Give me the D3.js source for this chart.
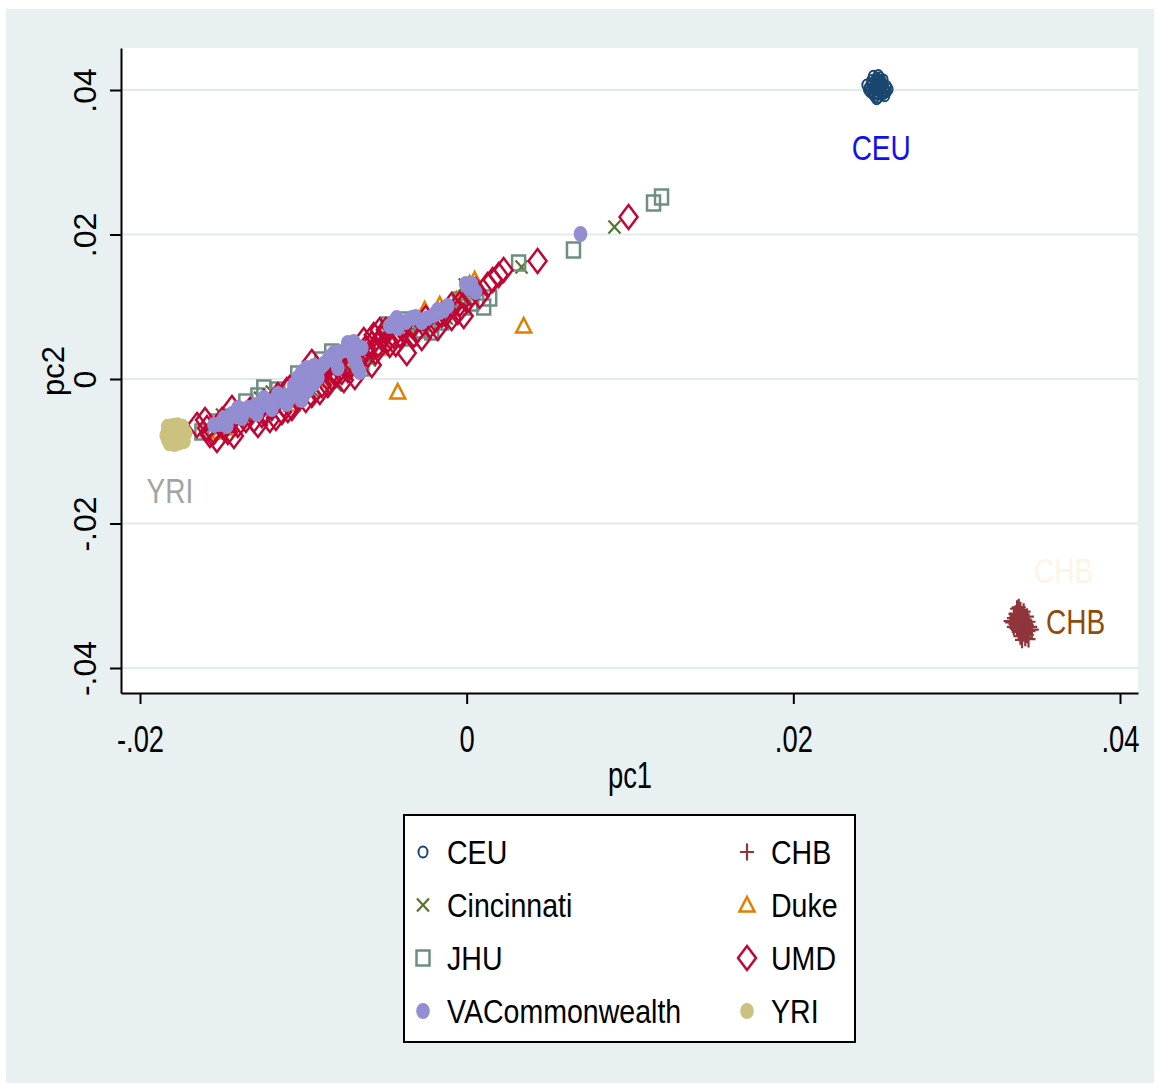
<!DOCTYPE html>
<html><head><meta charset="utf-8">
<script src="https://cdn.jsdelivr.net/npm/d3@7"></script>
<style>body{margin:0;background:#fff}svg{display:block}text{font-family:"Liberation Sans",Arial,Helvetica,sans-serif}</style>
</head><body><svg id="c" width="1158" height="1087"></svg>
<script>
// ---------- data (pc1, pc2) ----------
const ceuPts = [[0.0250,0.0412],[0.0252,0.0413],[0.0254,0.0411],[0.0248,0.0409],[0.0251,0.0408],[0.0255,0.0407],[0.0257,0.0405],[0.0247,0.0405],[0.0249,0.0403],[0.0252,0.0404],[0.0254,0.0402],[0.0256,0.0400],[0.0246,0.0401],[0.0250,0.0400],[0.0253,0.0399],[0.0248,0.0397],[0.0251,0.0396],[0.0254,0.0397],[0.0256,0.0397],[0.0249,0.0394],[0.0252,0.0394],[0.0255,0.0395],[0.0258,0.0401],[0.0245,0.0407],[0.0253,0.0410],[0.0250,0.0405],[0.0257,0.0398],[0.0247,0.0398],[0.0251,0.0402],[0.0253,0.0406],[0.0251,0.0416],[0.0253,0.0417],[0.0250,0.0391],[0.0252,0.0390],[0.0252,0.0420],[0.0249,0.0419],[0.0251,0.0388],[0.0255,0.0414],[0.0248,0.0413],[0.0256,0.0392]];
const chbPts = [[0.0337,-0.0318],[0.0339,-0.0320],[0.0341,-0.0322],[0.0336,-0.0325],[0.0338,-0.0327],[0.0340,-0.0326],[0.0343,-0.0329],[0.0335,-0.0331],[0.0337,-0.0333],[0.0339,-0.0332],[0.0342,-0.0334],[0.0344,-0.0336],[0.0334,-0.0337],[0.0336,-0.0339],[0.0338,-0.0338],[0.0341,-0.0340],[0.0343,-0.0341],[0.0345,-0.0343],[0.0335,-0.0343],[0.0337,-0.0345],[0.0340,-0.0345],[0.0342,-0.0347],[0.0344,-0.0349],[0.0338,-0.0350],[0.0341,-0.0352],[0.0343,-0.0354],[0.0339,-0.0356],[0.0342,-0.0358],[0.0344,-0.0360],[0.0340,-0.0361],[0.0346,-0.0347],[0.0333,-0.0335],[0.0340,-0.0335],[0.0338,-0.0316]];
const cincinnatiPts = [[-0.01498,-0.00498],[-0.01407,-0.00567],[-0.01266,-0.00263],[-0.01193,-0.00180],[-0.01101,-0.00291],[-0.01009,-0.00014],[-0.00936,-0.00180],[-0.00801,-0.00083],[-0.00765,0.00208],[-0.00703,0.00097],[-0.00593,0.00263],[-0.00489,0.00540],[-0.00428,0.00678],[-0.00306,0.00747],[-0.00122,0.00844],[-0.00012,0.01301],[0.00336,0.01550],[0.00905,0.02104]];
const dukePts = [[-0.01511,-0.00734],[-0.01450,-0.00678],[-0.01303,-0.00457],[-0.01070,-0.00346],[-0.00875,-0.00014],[-0.00734,0.00152],[-0.00520,0.00429],[-0.00367,0.00678],[-0.00257,0.00955],[-0.00165,0.01024],[-0.00061,0.01093],[-0.00018,0.01135],[0.00018,0.01315],[0.00049,0.01370],[0.00349,0.00734],[-0.00422,-0.00180]];
const jhuPts = [[-0.01621,-0.00734],[-0.01529,-0.00595],[-0.01352,-0.00318],[-0.01278,-0.00235],[-0.01242,-0.00125],[-0.01156,-0.00152],[-0.01034,0.00069],[-0.00979,-0.00055],[-0.00887,0.00263],[-0.00826,0.00374],[-0.00728,0.00263],[-0.00642,0.00152],[-0.00483,0.00747],[-0.00385,0.00817],[-0.00349,0.00567],[-0.00275,0.00678],[-0.00214,0.00651],[-0.00153,0.00789],[-0.00104,0.00955],[-0.00043,0.01093],[-0.00018,0.00997],[0.00104,0.00997],[0.00141,0.01121],[0.00318,0.01606],[0.00654,0.01785],[0.01144,0.02436],[0.01193,0.02519],[0.00031,0.01052]];
const umdPts = [[-0.01651,-0.00637],[-0.01602,-0.00567],[-0.01572,-0.00775],[-0.01529,-0.00844],[-0.01486,-0.00678],[-0.01437,-0.00567],[-0.01462,-0.00734],[-0.01376,-0.00498],[-0.01401,-0.00637],[-0.01327,-0.00429],[-0.01303,-0.00567],[-0.01254,-0.00498],[-0.01242,-0.00318],[-0.01205,-0.00567],[-0.01193,-0.00401],[-0.01156,-0.00221],[-0.01119,-0.00360],[-0.01083,-0.00125],[-0.01034,-0.00263],[-0.01009,-0.00152],[-0.00972,0.00014],[-0.00917,0.00055],[-0.00887,-0.00083],[-0.00862,0.00125],[-0.00826,0.00014],[-0.00789,0.00235],[-0.00765,0.00097],[-0.00740,0.00374],[-0.00716,0.00180],[-0.00685,0.00028],[-0.00667,0.00401],[-0.00630,0.00540],[-0.00606,0.00332],[-0.00569,0.00609],[-0.00544,0.00471],[-0.00520,0.00567],[-0.00495,0.00678],[-0.00471,0.00471],[-0.00446,0.00595],[-0.00398,0.00706],[-0.00367,0.00360],[-0.00336,0.00747],[-0.00300,0.00678],[-0.00251,0.00844],[-0.00226,0.00734],[-0.00190,0.00817],[-0.00128,0.00900],[-0.00092,0.01024],[-0.00055,0.00927],[0.00006,0.01093],[0.00055,0.01232],[0.00080,0.01149],[0.00128,0.01301],[0.00159,0.01370],[0.00196,0.01439],[0.00226,0.01509],[0.00434,0.01633],[0.00991,0.02242],
  [-0.01590,-0.00678],[-0.01547,-0.00734],[-0.01425,-0.00789],[-0.01352,-0.00567],[-0.01278,-0.00637],[-0.01229,-0.00457],[-0.01168,-0.00540],[-0.01131,-0.00457],[-0.01095,-0.00429],[-0.01070,-0.00401],[-0.00985,-0.00291],[-0.00948,-0.00221],[-0.00899,-0.00180],[-0.00850,-0.00083],[-0.00801,0.00055],[-0.00752,-0.00014],[-0.00728,0.00125],[-0.00654,0.00291],[-0.00618,0.00429],[-0.00581,0.00484],[-0.00557,0.00374],[-0.00532,0.00678],[-0.00483,0.00540],[-0.00581,0.00194],[-0.00434,0.00484],[-0.00410,0.00609],[-0.00324,0.00609],[-0.00275,0.00567],[-0.00177,0.00706],[-0.00153,0.00886],[-0.00043,0.01038],[-0.00018,0.00872],[0.00031,0.01176],[-0.00092,0.00844],[-0.01437,-0.00401],[-0.01498,-0.00567],[-0.01101,-0.00152],[-0.00948,0.00235],[-0.00826,0.00235],[-0.00887,0.00097]];
const vaPts = [[-0.01547,-0.00637],[-0.01486,-0.00540],[-0.01437,-0.00484],[-0.01388,-0.00429],[-0.01339,-0.00401],[-0.01291,-0.00360],[-0.01242,-0.00346],[-0.01193,-0.00304],[-0.01144,-0.00263],[-0.01107,-0.00235],[-0.01070,-0.00194],[-0.01058,-0.00083],[-0.01034,0.00014],[-0.01009,0.00097],[-0.00979,0.00152],[-0.00948,-0.00014],[-0.00997,-0.00221],[-0.00936,0.00180],[-0.00899,0.00152],[-0.00850,0.00263],[-0.00813,0.00360],[-0.00789,0.00152],[-0.00728,0.00498],[-0.00703,0.00360],[-0.00679,0.00235],[-0.00654,0.00097],[-0.00642,0.00429],[-0.00446,0.00789],[-0.00422,0.00706],[-0.00336,0.00844],[-0.00275,0.00789],[-0.00202,0.00886],[-0.00141,0.00955],[0.00012,0.01260],[0.00697,0.02007],[0.00055,0.01204],[-0.00165,0.00927],
  [-0.01511,-0.00623],[-0.01462,-0.00567],[-0.01413,-0.00512],[-0.01364,-0.00457],[-0.01315,-0.00429],[-0.01266,-0.00388],[-0.01217,-0.00346],[-0.01168,-0.00318],[-0.01131,-0.00304],[-0.01083,-0.00263],[-0.01046,-0.00152],[-0.01021,-0.00069],[-0.00985,0.00042],[-0.00960,0.00097],[-0.00924,0.00069],[-0.01009,-0.00291],[-0.00972,-0.00152],[-0.00936,-0.00069],[-0.00911,0.00014],[-0.00875,0.00208],[-0.00838,0.00304],[-0.00801,0.00291],[-0.00777,0.00374],[-0.00740,0.00401],[-0.00716,0.00457],[-0.00691,0.00291],[-0.00667,0.00152],[-0.00691,0.00512],[-0.00471,0.00734],[-0.00428,0.00844],[-0.00373,0.00789],[-0.00312,0.00858],[-0.00239,0.00844],[-0.00177,0.00955],[-0.00116,0.01010],[-0.00006,0.01315],[0.00031,0.01315],
  [-0.01468,-0.00651],[-0.01376,-0.00540],[-0.01284,-0.00484],[-0.01193,-0.00415],[-0.01101,-0.00346],[-0.01401,-0.00401],[-0.01242,-0.00263],[-0.01156,-0.00208]];
const yriPts = [[-0.0183,-0.0066],[-0.0180,-0.0065],[-0.0177,-0.0064],[-0.0174,-0.0066],[-0.0183,-0.0072],[-0.0180,-0.0071],[-0.0177,-0.0070],[-0.0174,-0.0072],[-0.0184,-0.0078],[-0.0181,-0.0077],[-0.0178,-0.0076],[-0.0175,-0.0077],[-0.0172,-0.0075],[-0.0183,-0.0084],[-0.0180,-0.0083],[-0.0177,-0.0082],[-0.0174,-0.0083],[-0.0182,-0.0089],[-0.0179,-0.0090],[-0.0176,-0.0088],[-0.0173,-0.0086],[-0.0181,-0.0080],[-0.0176,-0.0079],[-0.0179,-0.0068]];

const groupNames = ["CEU","CHB","Cincinnati","Duke","JHU","UMD","VACommonwealth","YRI"];
const xTicks = [-0.02, 0, 0.02, 0.04];
const yTicks = [-0.04, -0.02, 0, 0.02, 0.04];
const xTickLabels = ["-.02", "0", ".02", ".04"];
const yTickLabels = ["-.04", "-.02", "0", ".02", ".04"];
const xTitle = "pc1", yTitle = "pc2";
// cluster annotations (pc1, pc2 of text anchor)
const annText = ["CEU", "YRI", "CHB", "CHB"];
const annPc1 = [0.02538, -0.01817, 0.03474, 0.03547];
const annPc2 = [0.03031, -0.01716, -0.02824, -0.03529];

// ---------- styles ----------
const style = {
  CEU:{shape:"Oh", color:"#1a476f"},
  CHB:{shape:"plus", color:"#90353b"},
  Cincinnati:{shape:"x", color:"#55752f"},
  Duke:{shape:"tri", color:"#e37e00"},
  JHU:{shape:"sq", color:"#6e8e84"},
  UMD:{shape:"dia", color:"#c10534"},
  VACommonwealth:{shape:"dot", color:"#938dd2"},
  YRI:{shape:"dot", color:"#cac27e"}
};
const annStyle = [
  {color:"#1010f0", anchor:"middle"},
  {color:"#a3a3a3", anchor:"middle"},
  {color:"#fdf5e6", anchor:"start"},
  {color:"#8f4a0c", anchor:"start"}
];
const seriesData = {CEU:ceuPts, CHB:chbPts, Cincinnati:cincinnatiPts, Duke:dukePts, JHU:jhuPts, UMD:umdPts, VACommonwealth:vaPts, YRI:yriPts};

// ---------- layout ----------
const P = {left:121, right:1138, top:48, bottom:693};
const svg = d3.select("#c");
svg.append("rect").attr("x",6).attr("y",9).attr("width",1148).attr("height",1074).attr("fill","#e8f0f2");
svg.append("rect").attr("x",P.left).attr("y",P.top).attr("width",P.right-P.left).attr("height",P.bottom-P.top).attr("fill","#ffffff");

const xPerUnit = (1120-140)/0.06, yPerUnit = (668-90)/0.08;
const x = d3.scaleLinear().domain([-0.02-(140-P.left)/xPerUnit, 0.04+(P.right-1120)/xPerUnit]).range([P.left, P.right]);
const y = d3.scaleLinear().domain([-0.04-(P.bottom-668)/yPerUnit, 0.04+(90-P.top)/yPerUnit]).range([P.bottom, P.top]);

// gridlines
svg.append("g").selectAll("line").data(yTicks).join("line")
  .attr("x1",P.left).attr("x2",P.right).attr("y1",d=>y(d)).attr("y2",d=>y(d))
  .attr("stroke","#e1ebee").attr("stroke-width",2);

// marker shapes
function ellipse(rx,ry){return `M${-rx},0a${rx},${ry} 0 1,0 ${2*rx},0a${rx},${ry} 0 1,0 ${-2*rx},0Z`;}
function shapePath(s){
  switch(s){
    case "Oh": return ellipse(4.5,5.5);
    case "dot": return ellipse(6.8,8);
    case "plus": return "M-7,0H7M0,-8.5V8.5";
    case "x": return "M-6,-6.5L6,6.5M-6,6.5L6,-6.5";
    case "tri": return "M0,-8L7.5,6.5L-7.5,6.5Z";
    case "sq": return "M-6.5,-7.5H6.5V7.5H-6.5Z";
    case "dia": return "M0,-12L9,0L0,12L-9,0Z";
  }
}
function styleMarker(sel, name){
  const st = style[name];
  if(st.shape==="dot"){ sel.attr("fill",st.color).attr("stroke","none"); }
  else { sel.attr("fill","none").attr("stroke",st.color).attr("stroke-width", st.shape==="Oh"?2:(st.shape==="plus"||st.shape==="x"?2.2:2.5)); }
}

// points
const pg = svg.append("g");
groupNames.forEach(name=>{
  const g = pg.append("g");
  g.selectAll("path").data(seriesData[name]).join("path")
    .attr("d", shapePath(style[name].shape))
    .attr("transform", d=>`translate(${x(d[0])},${y(d[1])})`)
    .call(styleMarker, name);
});

// annotations
svg.append("g").selectAll("text").data(annText).join("text")
  .attr("transform",(d,i)=>`translate(${x(annPc1[i])},${y(annPc2[i])}) scale(0.8,1)`)
  .attr("text-anchor",(d,i)=>annStyle[i].anchor)
  .attr("fill",(d,i)=>annStyle[i].color)
  .attr("font-size",35).text(d=>d);

// axes
const xAxis = svg.append("g").attr("transform",`translate(0,${P.bottom})`)
  .call(d3.axisBottom(x).tickValues(xTicks).tickSize(11).tickSizeOuter(0).tickFormat((d,i)=>xTickLabels[i]));
const yAxis = svg.append("g").attr("transform",`translate(${P.left},0)`)
  .call(d3.axisLeft(y).tickValues(yTicks).tickSize(11).tickSizeOuter(0).tickFormat((d,i)=>yTickLabels[i]));
[xAxis,yAxis].forEach(a=>{
  a.select(".domain").attr("stroke","#000").attr("stroke-width",2);
  a.selectAll(".tick line").attr("stroke","#000").attr("stroke-width",2);
  a.selectAll("text").attr("fill","#000").attr("font-family",null);
});
xAxis.selectAll(".tick text").attr("y",null).attr("dy",null).attr("font-size",37)
  .attr("text-anchor","middle").attr("transform","translate(0,59) scale(0.74,1)");
yAxis.selectAll(".tick text").attr("x",null).attr("dy",null).attr("font-size",32)
  .attr("text-anchor","middle").attr("transform","translate(-25,0) rotate(-90)");

// axis titles
svg.append("text").attr("transform","translate(630,788) scale(0.74,1)").attr("text-anchor","middle")
  .attr("font-size",37).text(xTitle);
svg.append("text").attr("transform","translate(64,371) rotate(-90)").attr("text-anchor","middle")
  .attr("font-size",31).text(yTitle);

// legend
const lg = svg.append("g");
lg.append("rect").attr("x",404).attr("y",815).attr("width",451).attr("height",227)
  .attr("fill","#fff").attr("stroke","#000").attr("stroke-width",2);
const colMarkX = [423,747], colTextX = [447,771], rowY = [852,905,958,1011];
groupNames.forEach((name,i)=>{
  const col = i%2, row = Math.floor(i/2);
  lg.append("path").attr("d",shapePath(style[name].shape))
    .attr("transform",`translate(${colMarkX[col]},${rowY[row]})`).call(styleMarker,name);
  lg.append("text").attr("transform",`translate(${colTextX[col]},${rowY[row]+12}) scale(0.84,1)`)
    .attr("font-size",34).attr("fill","#000").text(name);
});
</script></body></html>
